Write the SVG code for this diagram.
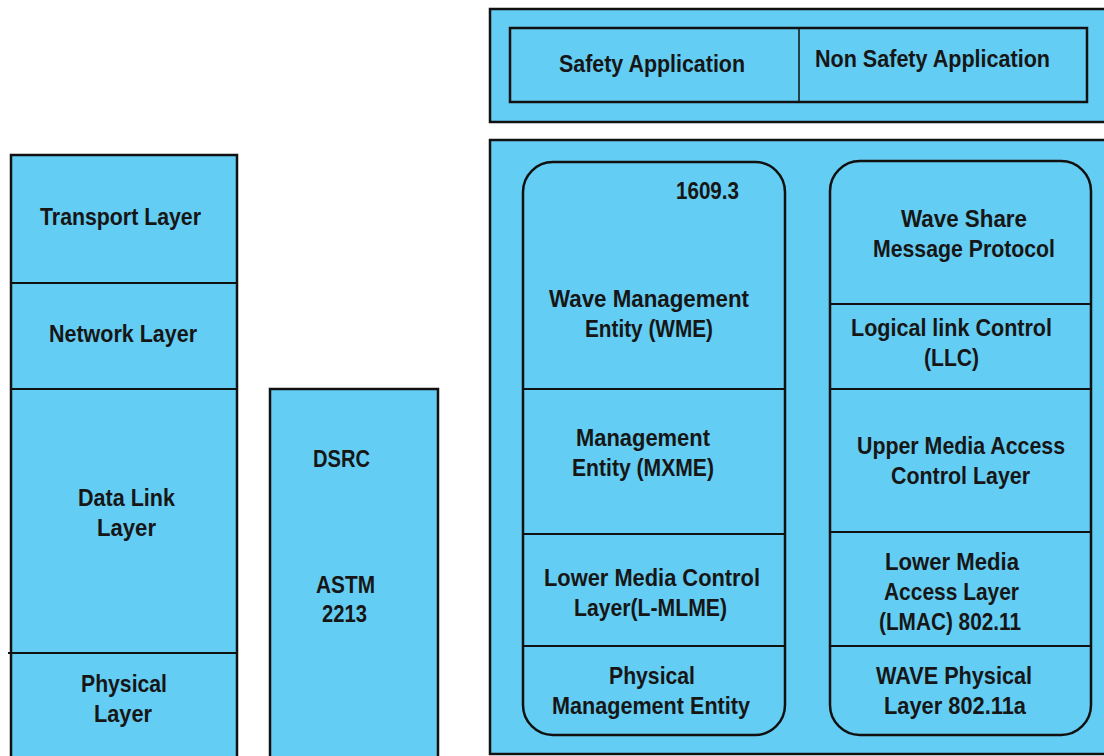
<svg xmlns="http://www.w3.org/2000/svg" width="1104" height="756" viewBox="0 0 1104 756">
  <style>
    .box { fill: #64CDF3; stroke: #111; stroke-width: 2.5; }
    .line { stroke: #111; stroke-width: 2; fill: none; }
    .thin { stroke: #111; stroke-width: 1.5; fill: none; }
    text { font-family: "Liberation Sans Narrow", "Liberation Sans", sans-serif; font-weight: bold; font-size: 24px; fill: #161616; text-anchor: middle; }
  </style>
  <rect width="1104" height="756" fill="#ffffff"/>

  <!-- Application plane -->
  <g id="applications">
    <rect class="box" x="490" y="9" width="620" height="113"/>
    <rect class="box" x="510" y="28" width="577" height="74"/>
    <line class="thin" x1="799" y1="28" x2="799" y2="102"/>
    <text x="652" y="72" textLength="186" lengthAdjust="spacingAndGlyphs">Safety Application</text>
    <text x="932.5" y="67" textLength="235" lengthAdjust="spacingAndGlyphs">Non Safety Application</text>
  </g>

  <!-- OSI layer stack -->
  <g id="osi-stack">
    <rect class="box" x="11" y="155" width="226" height="610"/>
    <line class="line" x1="11" y1="283" x2="237" y2="283"/>
    <line class="line" x1="11" y1="389" x2="237" y2="389"/>
    <line class="line" x1="8" y1="653" x2="237" y2="653"/>
    <text x="120.5" y="225" textLength="161" lengthAdjust="spacingAndGlyphs">Transport Layer</text>
    <text x="123" y="342" textLength="148" lengthAdjust="spacingAndGlyphs">Network Layer</text>
    <text x="126.5" y="506" textLength="97" lengthAdjust="spacingAndGlyphs">Data Link</text>
    <text x="126.5" y="536" textLength="59" lengthAdjust="spacingAndGlyphs">Layer</text>
    <text x="124" y="692" textLength="86" lengthAdjust="spacingAndGlyphs">Physical</text>
    <text x="123" y="722" textLength="58" lengthAdjust="spacingAndGlyphs">Layer</text>
  </g>

  <!-- DSRC column -->
  <g id="dsrc">
    <rect class="box" x="270" y="389" width="168" height="376"/>
    <text x="341.5" y="467" textLength="57" lengthAdjust="spacingAndGlyphs">DSRC</text>
    <text x="345.5" y="593" textLength="59" lengthAdjust="spacingAndGlyphs">ASTM</text>
    <text x="344.5" y="622" textLength="45" lengthAdjust="spacingAndGlyphs">2213</text>
  </g>

  <!-- WAVE stack container -->
  <g id="wave">
    <rect class="box" x="490" y="140" width="620" height="614"/>
  </g>

  <!-- Management plane (1609.3) -->
  <g id="management">
    <rect class="box" x="523" y="162" width="262" height="573" rx="30" ry="30"/>
    <line class="line" x1="523" y1="389" x2="785" y2="389"/>
    <line class="line" x1="523" y1="534" x2="785" y2="534"/>
    <line class="line" x1="523" y1="646" x2="785" y2="646"/>
    <text x="707.5" y="199" textLength="63" lengthAdjust="spacingAndGlyphs">1609.3</text>
    <text x="649" y="307" textLength="200" lengthAdjust="spacingAndGlyphs">Wave Management</text>
    <text x="649" y="337" textLength="128" lengthAdjust="spacingAndGlyphs">Entity (WME)</text>
    <text x="643" y="446" textLength="134" lengthAdjust="spacingAndGlyphs">Management</text>
    <text x="643" y="476" textLength="142" lengthAdjust="spacingAndGlyphs">Entity (MXME)</text>
    <text x="652" y="586" textLength="216" lengthAdjust="spacingAndGlyphs">Lower Media Control</text>
    <text x="650.5" y="616" textLength="153" lengthAdjust="spacingAndGlyphs">Layer(L-MLME)</text>
    <text x="652" y="684" textLength="86" lengthAdjust="spacingAndGlyphs">Physical</text>
    <text x="651" y="714" textLength="198" lengthAdjust="spacingAndGlyphs">Management Entity</text>
  </g>

  <!-- Data plane -->
  <g id="data-plane">
    <rect class="box" x="830" y="161" width="261" height="574" rx="30" ry="30"/>
    <line class="line" x1="830" y1="304" x2="1091" y2="304"/>
    <line class="line" x1="830" y1="389" x2="1091" y2="389"/>
    <line class="line" x1="830" y1="532" x2="1091" y2="532"/>
    <line class="line" x1="830" y1="646" x2="1091" y2="646"/>
    <text x="964" y="227" textLength="126" lengthAdjust="spacingAndGlyphs">Wave Share</text>
    <text x="964" y="257" textLength="182" lengthAdjust="spacingAndGlyphs">Message Protocol</text>
    <text x="951.5" y="336" textLength="201" lengthAdjust="spacingAndGlyphs">Logical link Control</text>
    <text x="951.5" y="366" textLength="55" lengthAdjust="spacingAndGlyphs">(LLC)</text>
    <text x="961" y="454" textLength="208" lengthAdjust="spacingAndGlyphs">Upper Media Access</text>
    <text x="960.5" y="484" textLength="139" lengthAdjust="spacingAndGlyphs">Control Layer</text>
    <text x="952" y="570" textLength="134" lengthAdjust="spacingAndGlyphs">Lower Media</text>
    <text x="951.5" y="600" textLength="135" lengthAdjust="spacingAndGlyphs">Access Layer</text>
    <text x="950" y="630" textLength="142" lengthAdjust="spacingAndGlyphs">(LMAC) 802.11</text>
    <text x="954" y="684" textLength="156" lengthAdjust="spacingAndGlyphs">WAVE Physical</text>
    <text x="955" y="714" textLength="142" lengthAdjust="spacingAndGlyphs">Layer 802.11a</text>
  </g>
</svg>
